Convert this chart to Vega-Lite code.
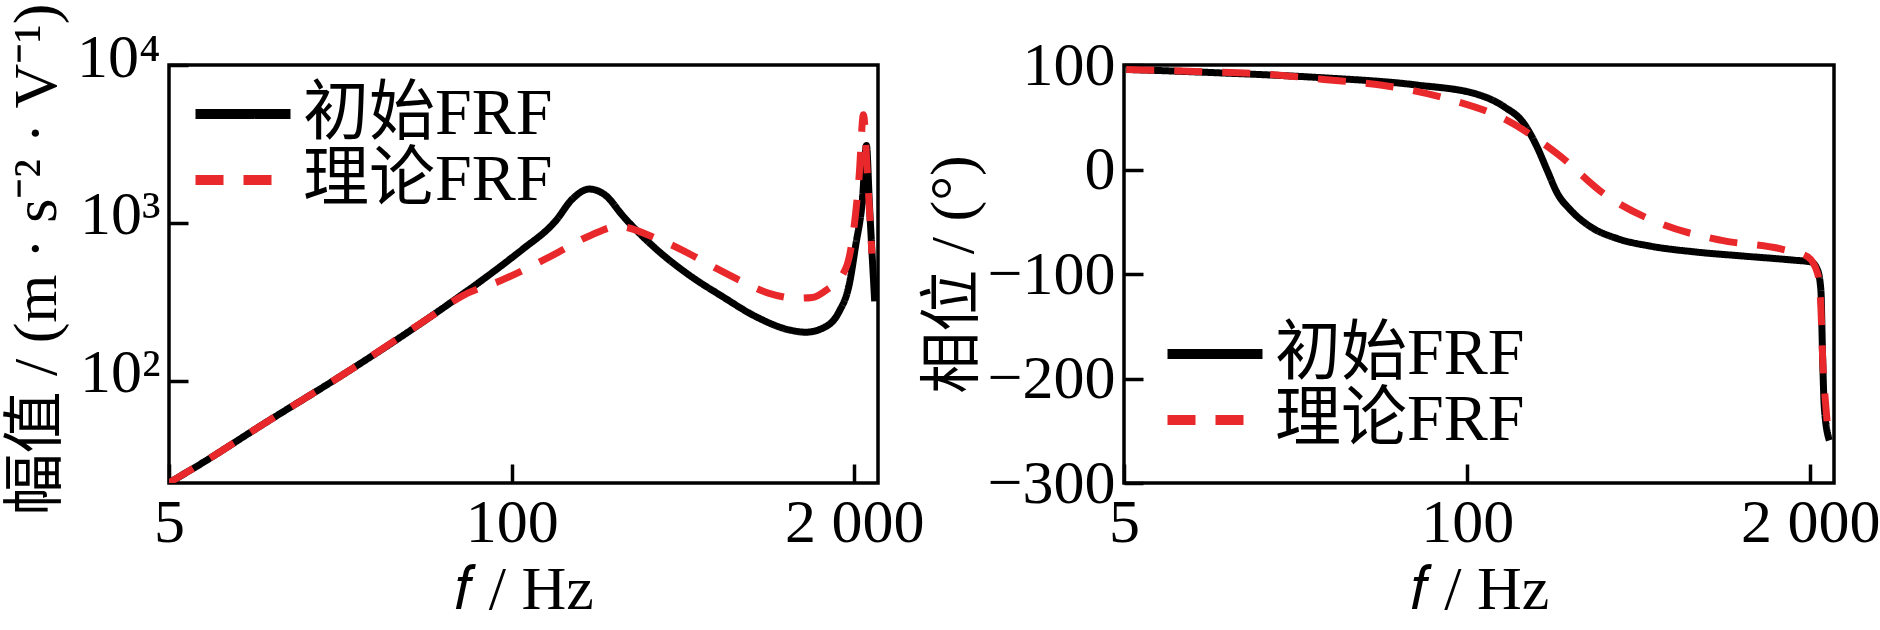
{
  "$schema": "https://vega.github.io/schema/vega-lite/v6.json",
  "background": "white",
  "padding": {"left": 3, "top": 0, "right": 4, "bottom": 0},
  "spacing": 246,
  "bounds": "flush",
  "config": {
    "font": "Liberation Serif, Noto Sans CJK SC",
    "view": {"stroke": "black", "strokeWidth": 3.5},
    "axis": {
      "domain": false,
      "grid": false,
      "tickSize": -19,
      "tickWidth": 3.5,
      "tickColor": "black",
      "labelFont": "Liberation Serif",
      "labelFontSize": 62,
      "labelColor": "black",
      "labelPadding": 28,
      "labelFlush": false,
      "labelOverlap": false,
      "titleFont": "Liberation Serif, Noto Sans CJK SC",
      "titleFontSize": 62,
      "titleFontWeight": "normal",
      "titleColor": "black"
    },
    "legend": {
      "title": null,
      "orient": "none",
      "padding": 0,
      "symbolType": "M-1.9,0H1.9",
      "symbolSize": 2500,
      "symbolStrokeWidth": 10,
      "labelFont": "Liberation Serif, Noto Sans CJK SC",
      "labelFontSize": 66,
      "labelColor": "black",
      "labelLimit": 0,
      "labelOffset": 27,
      "rowPadding": -14
    }
  },
  "datasets": {
    "mag": [
      {"f": 5, "v": 22.6, "s": "初始FRF"},
      {"f": 6.33, "v": 28.5, "s": "初始FRF"},
      {"f": 11.4, "v": 53.1, "s": "初始FRF"},
      {"f": 24.2, "v": 116, "s": "初始FRF"},
      {"f": 48.8, "v": 252, "s": "初始FRF"},
      {"f": 98, "v": 585, "s": "初始FRF"},
      {"f": 110, "v": 680, "s": "初始FRF"},
      {"f": 147, "v": 1030, "s": "初始FRF"},
      {"f": 170, "v": 1416, "s": "初始FRF"},
      {"f": 197, "v": 1637, "s": "初始FRF"},
      {"f": 228, "v": 1486, "s": "初始FRF"},
      {"f": 264, "v": 1111, "s": "初始FRF"},
      {"f": 353, "v": 685, "s": "初始FRF"},
      {"f": 472, "v": 467, "s": "初始FRF"},
      {"f": 632, "v": 341, "s": "初始FRF"},
      {"f": 845, "v": 255, "s": "初始FRF"},
      {"f": 1131, "v": 210, "s": "初始FRF"},
      {"f": 1308, "v": 203, "s": "初始FRF"},
      {"f": 1514, "v": 215, "s": "初始FRF"},
      {"f": 1751, "v": 274, "s": "初始FRF"},
      {"f": 1911, "v": 404, "s": "初始FRF"},
      {"f": 2024, "v": 720, "s": "初始FRF"},
      {"f": 2148, "v": 1416, "s": "初始FRF"},
      {"f": 2223, "v": 3095, "s": "初始FRF"},
      {"f": 2282, "v": 1317, "s": "初始FRF"},
      {"f": 2390, "v": 318, "s": "初始FRF"},
      {"f": 5, "v": 22.6, "s": "理论FRF"},
      {"f": 6.33, "v": 28.5, "s": "理论FRF"},
      {"f": 11.4, "v": 53.1, "s": "理论FRF"},
      {"f": 24.2, "v": 116, "s": "理论FRF"},
      {"f": 48.8, "v": 252, "s": "理论FRF"},
      {"f": 65, "v": 345, "s": "理论FRF"},
      {"f": 91, "v": 431, "s": "理论FRF"},
      {"f": 140, "v": 611, "s": "理论FRF"},
      {"f": 200, "v": 835, "s": "理论FRF"},
      {"f": 253, "v": 950, "s": "理论FRF"},
      {"f": 353, "v": 800, "s": "理论FRF"},
      {"f": 446, "v": 670, "s": "理论FRF"},
      {"f": 579, "v": 530, "s": "理论FRF"},
      {"f": 731, "v": 434, "s": "理论FRF"},
      {"f": 950, "v": 358, "s": "理论FRF"},
      {"f": 1199, "v": 333, "s": "理论FRF"},
      {"f": 1387, "v": 337, "s": "理论FRF"},
      {"f": 1558, "v": 373, "s": "理论FRF"},
      {"f": 1855, "v": 514, "s": "理论FRF"},
      {"f": 1968, "v": 793, "s": "理论FRF"},
      {"f": 2086, "v": 1984, "s": "理论FRF"},
      {"f": 2166, "v": 4847, "s": "理论FRF"},
      {"f": 2242, "v": 2031, "s": "理论FRF"},
      {"f": 2332, "v": 638, "s": "理论FRF"}
    ],
    "phase": [
      {"f": 5.1, "v": 95.8, "s": "初始FRF"},
      {"f": 11.2, "v": 92.6, "s": "初始FRF"},
      {"f": 27, "v": 88.1, "s": "初始FRF"},
      {"f": 64.6, "v": 80.8, "s": "初始FRF"},
      {"f": 109, "v": 72, "s": "初始FRF"},
      {"f": 138, "v": 60.1, "s": "初始FRF"},
      {"f": 164, "v": 44.1, "s": "初始FRF"},
      {"f": 184, "v": 21.7, "s": "初始FRF"},
      {"f": 201, "v": -0.6, "s": "初始FRF"},
      {"f": 220, "v": -23, "s": "初始FRF"},
      {"f": 247, "v": -38.9, "s": "初始FRF"},
      {"f": 294, "v": -54.9, "s": "初始FRF"},
      {"f": 371, "v": -66.1, "s": "初始FRF"},
      {"f": 497, "v": -73.4, "s": "初始FRF"},
      {"f": 726, "v": -78.8, "s": "初始FRF"},
      {"f": 1124, "v": -82.9, "s": "初始FRF"},
      {"f": 1739, "v": -86.8, "s": "初始FRF"},
      {"f": 2011, "v": -88.4, "s": "初始FRF"},
      {"f": 2132, "v": -96.4, "s": "初始FRF"},
      {"f": 2194, "v": -115.5, "s": "初始FRF"},
      {"f": 2227, "v": -179.4, "s": "初始FRF"},
      {"f": 2260, "v": -227.3, "s": "初始FRF"},
      {"f": 2362, "v": -259.2, "s": "初始FRF"},
      {"f": 5.1, "v": 95.8, "s": "理论FRF"},
      {"f": 9.86, "v": 93.6, "s": "理论FRF"},
      {"f": 17, "v": 91.4, "s": "理论FRF"},
      {"f": 28.6, "v": 86.2, "s": "理论FRF"},
      {"f": 49.7, "v": 79.9, "s": "理论FRF"},
      {"f": 85.4, "v": 67.2, "s": "理论FRF"},
      {"f": 139, "v": 48.1, "s": "理论FRF"},
      {"f": 222, "v": 14.1, "s": "理论FRF"},
      {"f": 334, "v": -24.2, "s": "理论FRF"},
      {"f": 540, "v": -51.7, "s": "理论FRF"},
      {"f": 913, "v": -67.6, "s": "理论FRF"},
      {"f": 1570, "v": -76.4, "s": "理论FRF"},
      {"f": 1954, "v": -83.6, "s": "理论FRF"},
      {"f": 2132, "v": -99.6, "s": "理论FRF"},
      {"f": 2194, "v": -131.5, "s": "理论FRF"},
      {"f": 2227, "v": -179.4, "s": "理论FRF"},
      {"f": 2292, "v": -227.3, "s": "理论FRF"},
      {"f": 2326, "v": -246.5, "s": "理论FRF"}
    ]
  },
  "hconcat": [
    {
      "width": 709,
      "height": 418,
      "data": {"name": "mag"},
      "mark": {"type": "line", "strokeWidth": 7, "interpolate": "monotone", "clip": true, "strokeCap": "butt"},
      "encoding": {
        "x": {
          "field": "f",
          "type": "quantitative",
          "scale": {"type": "log", "domain": [5, 2460], "nice": false},
          "axis": {"values": [5, 100, 2000], "labelExpr": "datum.value == 2000 ? '2 000' : datum.label", "title": "𝑓 / Hz", "titlePadding": 6}
        },
        "y": {
          "field": "v",
          "type": "quantitative",
          "scale": {"type": "log", "domain": [22.5, 10000], "nice": false},
          "axis": {"values": [100, 1000, 10000], "labelExpr": "datum.value == 100 ? '10²' : datum.value == 1000 ? '10³' : '10⁴'", "labelOffset": -8, "title": "幅值 / (m · s⁻² · V⁻¹)", "titlePadding": 8, "titleY": 194}
        },
        "color": {
          "field": "s",
          "type": "nominal",
          "scale": {"domain": ["初始FRF", "理论FRF"], "range": ["#000000", "#e8282b"]},
          "legend": {"legendX": 41, "legendY": 16}
        },
        "strokeDash": {
          "field": "s",
          "type": "nominal",
          "scale": {"domain": ["初始FRF", "理论FRF"], "range": [[1, 0], [28, 20]]},
          "legend": {"legendX": 41, "legendY": 16}
        }
      }
    },
    {
      "width": 710,
      "height": 418,
      "data": {"name": "phase"},
      "mark": {"type": "line", "strokeWidth": 7, "interpolate": "monotone", "clip": true, "strokeCap": "butt"},
      "encoding": {
        "x": {
          "field": "f",
          "type": "quantitative",
          "scale": {"type": "log", "domain": [5, 2460], "nice": false},
          "axis": {"values": [5, 100, 2000], "labelExpr": "datum.value == 2000 ? '2 000' : datum.label", "title": "𝑓 / Hz", "titlePadding": 6}
        },
        "y": {
          "field": "v",
          "type": "quantitative",
          "scale": {"domain": [-300, 100], "nice": false},
          "axis": {"values": [-300, -200, -100, 0, 100], "title": "相位 / (°)", "titlePadding": 2}
        },
        "color": {
          "field": "s",
          "type": "nominal",
          "scale": {"domain": ["初始FRF", "理论FRF"], "range": ["#000000", "#e8282b"]},
          "legend": {"legendX": 58, "legendY": 256}
        },
        "strokeDash": {
          "field": "s",
          "type": "nominal",
          "scale": {"domain": ["初始FRF", "理论FRF"], "range": [[1, 0], [28, 20]]},
          "legend": {"legendX": 58, "legendY": 256}
        }
      }
    }
  ],
  "resolve": {
    "scale": {"color": "independent", "strokeDash": "independent"},
    "legend": {"color": "independent", "strokeDash": "independent"}
  }
}
